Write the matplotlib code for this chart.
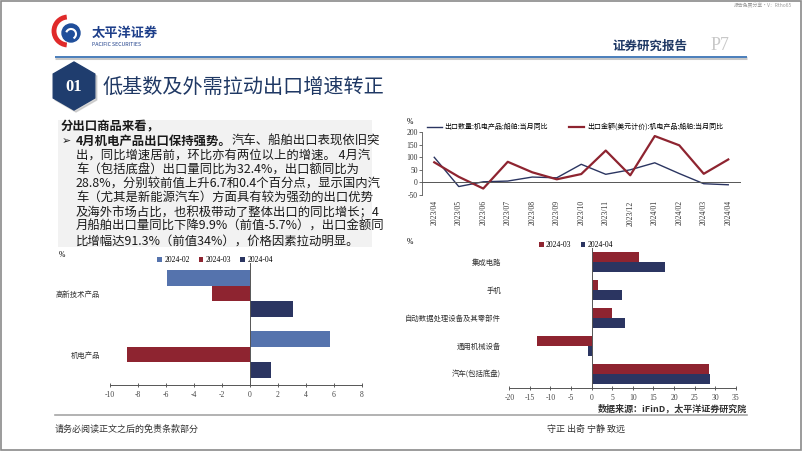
import matplotlib
matplotlib.use("Agg")
import matplotlib.pyplot as plt
from matplotlib.patches import Rectangle, RegularPolygon, Arc, Circle
import numpy as np

plt.rcParams['font.family'] = ['Noto Sans CJK SC', 'DejaVu Sans']
plt.rcParams['axes.unicode_minus'] = False

W, H = 802, 451

# ---- data ----
months = ['2023/04', '2023/05', '2023/06', '2023/07', '2023/08', '2023/09', '2023/10',
          '2023/11', '2023/12', '2024/01', '2024/02', '2024/03', '2024/04']
ship_qty = [100, -17, 2, 5, 21, 18, 72, 32, 50, 78, 35, -5.7, -9.9]
ship_val = [80, 22, -25, 82, 40, 12, 33, 127, 28, 185, 148, 34, 91.3]
line_names = ['出口数量:机电产品:船舶:当月同比', '出口金额(美元计价):机电产品:船舶:当月同比']

left_cats = ['机电产品', '高新技术产品']
left_series = ['2024-02', '2024-03', '2024-04']
left_vals = {'2024-02': [5.7, -5.9], '2024-03': [-8.8, -2.7], '2024-04': [1.5, 3.1]}

right_cats = ['集成电路', '手机', '自动数据处理设备及其零部件', '通用机械设备', '汽车(包括底盘)']
right_series = ['2024-03', '2024-04']
right_vals = {'2024-03': [11.5, 1.6, 5.0, -13.2, 28.4], '2024-04': [17.8, 7.3, 8.2, -1.0, 28.8]}

body_lines = [
    '出，同比增速居前，环比亦有两位以上的增速。 4月汽',
    '车（包括底盘）出口量同比为32.4%，出口额同比为',
    '28.8%，分别较前值上升6.7和0.4个百分点，显示国内汽',
    '车（尤其是新能源汽车）方面具有较为强劲的出口优势',
    '及海外市场占比，也积极带动了整体出口的同比增长；4',
    '月船舶出口量同比下降9.9%（前值-5.7%），出口金额同',
    '比增幅达91.3%（前值34%），价格因素拉动明显。',
]

NAVY = '#2B3561'
RED = '#8E2430'
LBLUE = '#5573AD'
SERIF = 'Liberation Serif'


def rect(x0, y0, x1, y1):
    return [x0 / W, 1 - y1 / H, (x1 - x0) / W, (y1 - y0) / H]


fig = plt.figure(figsize=(W / 100, H / 100), dpi=100)
bg = fig.add_axes([0, 0, 1, 1])
bg.set_xlim(0, W)
bg.set_ylim(H, 0)
bg.axis('off')

# frame
bg.add_patch(Rectangle((1, 1), W - 2, H - 2, fill=False, ec='#8A8A8A', lw=1.2))
bg.text(792, 6, '报告免费分享·V：Rtho65', fontsize=3.5, color='#9A9A9A', ha='right', va='center')

# logo
bg.add_patch(Arc((68, 31), 28, 28, theta1=95, theta2=265, color='#E02A2A', lw=3.5))
bg.add_patch(Circle((71, 33), 9, color='#1F4E9A'))
bg.add_patch(Arc((71, 34), 10, 10, theta1=200, theta2=420, color='white', lw=1.5))
bg.text(92, 33, '太平洋证券', fontsize=9.5, fontweight='bold', color='#1E3F8A', va='center')
bg.text(92, 44, 'PACIFIC SECURITIES', fontsize=3.8, color='#1E3F8A', va='center')

bg.text(612, 46, '证券研究报告', fontsize=9, fontweight='bold', color='#1F3864', va='center')
bg.text(711, 46, 'P7', fontsize=13, color='#C8C8C8', va='center', family=SERIF)
bg.plot([55, 747], [58, 58], color='#C8C8C8', lw=2.2, solid_capstyle='butt')
bg.plot([55, 747], [57, 57], color='#4A7EBB', lw=1.4, solid_capstyle='butt')

# section title
bg.add_patch(RegularPolygon((76, 88), 6, radius=24, color='#B0B0B0', alpha=0.5))
bg.add_patch(RegularPolygon((74, 86), 6, radius=24, color='#1F3D6E'))
bg.text(74, 87, '01', color='white', fontsize=12, fontweight='bold', ha='center', va='center',
        family=SERIF)
bg.text(103, 87, '低基数及外需拉动出口增速转正', fontsize=14.5, color='#1F3864', va='center')

# text box
bg.add_patch(Rectangle((58, 120), 314, 127, color='#F2F2F2', lw=0))
fs = 8.9
bg.text(61, 127, '分出口商品来看，', fontsize=fs, fontweight='bold', va='center', color='#1A1A1A')
bg.text(62, 141, '➢', fontsize=fs - 1, va='center', color='#1A1A1A', family=['DejaVu Sans'])
tb = bg.text(76, 141, '4月机电产品出口保持强势。', fontsize=fs, fontweight='bold', va='center',
             color='#1A1A1A')
r = fig.canvas.get_renderer()
bb = tb.get_window_extent(r)
bg.text(bb.x1, 141, '汽车、船舶出口表现依旧突', fontsize=fs, va='center', color='#1A1A1A')
for i, ln in enumerate(body_lines):
    bg.text(76, 155.5 + i * 14.2, ln, fontsize=fs, va='center', color='#1A1A1A')

# footer
bg.plot([55, 747], [415, 415], color='#A6A6A6', lw=1.2)
bg.text(747, 409, '数据来源：iFinD，太平洋证券研究院', fontsize=6.5, fontweight='bold', ha='right',
        va='center', color='#333333')
bg.text(55, 429, '请务必阅读正文之后的免责条款部分', fontsize=6.5, va='center', color='#333333')
bg.text(547, 429, '守正 出奇 宁静 致远', fontsize=6.5, va='center', color='#333333')

# ---- line chart ----
ax1 = fig.add_axes(rect(422, 132.3, 740.5, 194.8))
ax1.set_facecolor('none')
x = np.arange(len(months))
ax1.plot(x, ship_qty, color=NAVY, lw=1.0, label=line_names[0])
ax1.plot(x, ship_val, color=RED, lw=1.6, label=line_names[1])
ax1.axhline(0, color='#555555', lw=0.7)
ax1.set_xlim(-0.5, len(months) - 0.5)
ax1.set_ylim(-50, 200)
ax1.set_yticks([-50, 0, 50, 100, 150, 200])
ax1.set_xticks(x)
ax1.set_xticklabels(months, rotation=90, fontsize=5.5, family=SERIF, color='#333333')
for t in ax1.get_yticklabels():
    t.set_family(SERIF)
ax1.tick_params(axis='y', labelsize=5.5, length=2, width=0.5, pad=1, colors='#333333')
ax1.tick_params(axis='x', length=0, pad=4)
for s in ['top', 'right', 'bottom']:
    ax1.spines[s].set_visible(False)
ax1.spines['left'].set_color('#555555')
ax1.spines['left'].set_linewidth(0.6)
ax1.legend(loc='center', bbox_to_anchor=(575 / W, 1 - 127 / H), bbox_transform=fig.transFigure,
           ncol=2, frameon=False, fontsize=5, handlelength=2.2, handletextpad=0.4,
           columnspacing=3.0, borderpad=0)
bg.text(410, 122, '%', fontsize=5.5, ha='center', va='center', family=SERIF)

# ---- left bar chart ----
ax2 = fig.add_axes(rect(110, 263, 362, 385))
ax2.set_facecolor('none')
yl = np.arange(len(left_cats))
bh = 0.262
offs = {'2024-02': bh, '2024-03': 0, '2024-04': -bh}
cols = {'2024-02': LBLUE, '2024-03': RED, '2024-04': NAVY}
for s in left_series:
    ax2.barh(yl + offs[s], left_vals[s], height=bh, color=cols[s], label=s)
ax2.axvline(0, color='#555555', lw=0.7)
ax2.set_xlim(-10, 8)
ax2.set_ylim(-0.5, 1.5)
ax2.set_xticks(range(-10, 9, 2))
ax2.set_yticks(yl)
ax2.set_yticklabels(left_cats, fontsize=5.3, color='#333333')
for t in ax2.get_xticklabels():
    t.set_family(SERIF)
ax2.tick_params(axis='x', labelsize=5.5, length=3, width=0.6, direction='inout', pad=3,
                colors='#444444')
ax2.tick_params(axis='y', length=0, pad=7)
for s in ['top', 'right', 'left']:
    ax2.spines[s].set_visible(False)
ax2.spines['bottom'].set_color('#555555')
ax2.spines['bottom'].set_linewidth(0.7)
ax2.legend(loc='center', bbox_to_anchor=(215 / W, 1 - 260 / H), bbox_transform=fig.transFigure,
           ncol=3, frameon=False, handlelength=0.6, handleheight=0.6,
           handletextpad=0.3, columnspacing=1.2, borderpad=0,
           prop={'family': SERIF, 'size': 5.5})
bg.text(62, 255, '%', fontsize=5.5, ha='center', va='center', family=SERIF)

# ---- right bar chart ----
ax3 = fig.add_axes(rect(509.3, 248, 735.7, 388))
ax3.set_facecolor('none')
yr = np.arange(len(right_cats))[::-1]
bh3 = 0.357
offs3 = {'2024-03': bh3 / 2, '2024-04': -bh3 / 2}
cols3 = {'2024-03': RED, '2024-04': NAVY}
for s in right_series:
    ax3.barh(yr + offs3[s], right_vals[s], height=bh3, color=cols3[s], label=s)
ax3.axvline(0, color='#555555', lw=0.7)
ax3.set_xlim(-20, 35)
ax3.set_ylim(-0.5, len(right_cats) - 0.5)
ax3.set_xticks(range(-20, 36, 5))
ax3.set_yticks(yr)
ax3.set_yticklabels(right_cats, fontsize=5.3, color='#333333')
for t in ax3.get_xticklabels():
    t.set_family(SERIF)
ax3.tick_params(axis='x', labelsize=5.5, length=3, width=0.6, direction='inout', pad=3,
                colors='#444444')
ax3.tick_params(axis='y', length=0, pad=6)
for s in ['top', 'right', 'left']:
    ax3.spines[s].set_visible(False)
ax3.spines['bottom'].set_color('#555555')
ax3.spines['bottom'].set_linewidth(0.7)
ax3.legend(loc='center', bbox_to_anchor=(576 / W, 1 - 245 / H), bbox_transform=fig.transFigure,
           ncol=2, frameon=False, handlelength=0.6, handleheight=0.6,
           handletextpad=0.3, columnspacing=1.2, borderpad=0,
           prop={'family': SERIF, 'size': 5.5})
bg.text(410, 242, '%', fontsize=5.5, ha='center', va='center', family=SERIF)

fig.savefig('out.png', dpi=100)
